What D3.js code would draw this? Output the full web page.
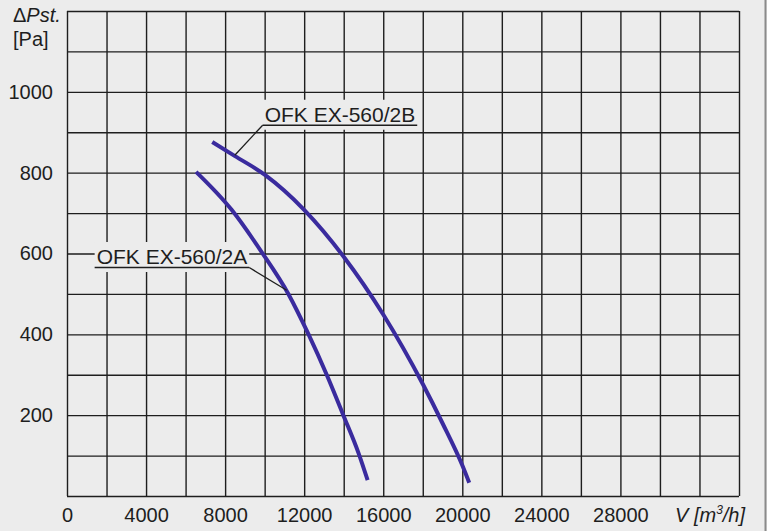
<!DOCTYPE html>
<head>
  <meta charset="utf-8">
  <script src="https://cdnjs.cloudflare.com/ajax/libs/d3/7.8.5/d3.min.js"></script>
  <style>
    body { margin:0; background:#ececec; }
    text { font-family: "Liberation Sans", Arial, sans-serif; fill:#1e1e1e; }
  </style>
</head>

<body>
  <script>
    // curve data: [V m3/h, dPst Pa]
    var curve2A = [[6530, 802], [8330, 708], [9815, 606], [11200, 500], [12210, 401],
                   [13140, 300], [13980, 200], [14750, 106], [15210, 39]];
    var curve2B = [[7350, 876], [8500, 841], [10000, 795], [12000, 708], [14000, 592],
                   [16000, 449], [18000, 277], [19000, 180], [20000, 76], [20350, 33]];
    var seriesNames = ["OFK EX-560/2A", "OFK EX-560/2B"];
    var xTicks = [0, 4000, 8000, 12000, 16000, 20000, 24000, 28000];
    var yTicks = [200, 400, 600, 800, 1000];
    var xGrid = d3.range(0, 34001, 2000);
    var yGrid = d3.range(0, 1201, 100);
    // where each leader line touches its curve / where the label sits (data units)
    var leaderOnCurve = [[11116, 509], [8490, 843]];
    var labelAnchor = [[1500, 574], [10000, 926]];

    var width = 767,
        height = 531;
    var margin = {left: 67, top: 11},
        w = 672,
        h = 485;

    var svg = d3.select("body").append("svg")
      .attr("width", width)
      .attr("height", height)

    svg.append('line')
      .attr('x1', 765.5).attr('x2', 765.5)
      .attr('y1', 0).attr('y2', height)
      .attr('stroke', '#8a8a8a').attr('stroke-width', 2)

    var xScale = d3.scaleLinear().domain([0, 34000]).range([0, w]);
    var yScale = d3.scaleLinear().domain([0, 1200]).range([h, 0]);

    var g = svg.append('g')
      .attr('transform', 'translate(' + margin.left + ',' + margin.top + ')')

    //grid
    g.append('g')
      .attr('class', 'xgrid')
      .attr('transform', 'translate(0,' + h + ')')
      .call(d3.axisBottom(xScale).tickValues(xGrid).tickSize(-h).tickFormat(''))
    g.append('g')
      .attr('class', 'ygrid')
      .call(d3.axisLeft(yScale).tickValues(yGrid).tickSize(-w).tickFormat(''))
    g.selectAll('.xgrid .domain, .ygrid .domain').remove()
    g.selectAll('.xgrid line, .ygrid line')
      .attr('stroke', '#1e1e1e')
      .attr('stroke-width', 1.4)

    //tick labels
    var xAxis = g.append('g')
      .attr('transform', 'translate(0,' + h + ')')
      .call(d3.axisBottom(xScale).tickValues(xTicks).tickSize(0).tickPadding(12)
        .tickFormat(d3.format('d')))
    var yAxis = g.append('g')
      .call(d3.axisLeft(yScale).tickValues(yTicks).tickSize(0).tickPadding(14)
        .tickFormat(d3.format('d')))
    xAxis.select('.domain').remove()
    yAxis.select('.domain').remove()
    g.selectAll('.tick text')
      .attr('font-size', 20)
      .attr('font-family', '"Liberation Sans", Arial, sans-serif')
      .attr('fill', '#1e1e1e')

    //axis titles
    var yt = svg.append('text').attr('x', 13).attr('y', 22).attr('font-size', 20)
    yt.append('tspan').text('\u0394')
    yt.append('tspan').attr('font-style', 'italic').text('Pst.')
    svg.append('text').attr('x', 13).attr('y', 46).attr('font-size', 20).text('[Pa]')

    var xt = svg.append('text').attr('x', 675).attr('y', 522)
      .attr('font-size', 20).attr('font-style', 'italic')
    xt.append('tspan').text('V [m')
    xt.append('tspan').attr('font-size', 12).attr('dy', -8).text('3')
    xt.append('tspan').attr('dy', 8).text('/h]')

    //curves
    var line = d3.line()
      .x(function(d) { return xScale(d[0]) })
      .y(function(d) { return yScale(d[1]) })
      .curve(d3.curveMonotoneX)

    g.selectAll('.curve')
      .data([curve2A, curve2B])
      .enter()
      .append('path')
      .attr('class', 'curve')
      .attr('d', line)
      .attr('fill', 'none')
      .attr('stroke', '#3a2b9e')
      .attr('stroke-width', 4)

    //labels with leader lines
    seriesNames.forEach(function(name, i) {
      var lx = xScale(labelAnchor[i][0]),
          ly = yScale(labelAnchor[i][1]);
      var lab = g.append('g')
      var t = lab.append('text')
        .attr('x', lx).attr('y', ly)
        .attr('font-size', 21)
        .text(name)
      var bb = t.node().getBBox();
      lab.insert('rect', 'text')
        .attr('x', bb.x - 2).attr('y', ly - 22)
        .attr('width', bb.width + 4).attr('height', 30)
        .attr('fill', '#ececec')
      lab.append('line')
        .attr('x1', bb.x - 2).attr('x2', bb.x + bb.width + 2)
        .attr('y1', ly + 3.5).attr('y2', ly + 3.5)
        .attr('stroke', '#1e1e1e').attr('stroke-width', 1.3)
      var ex = i === 0 ? bb.x + bb.width + 2 : bb.x - 2;
      lab.append('line')
        .attr('x1', ex).attr('y1', ly + 3.5)
        .attr('x2', xScale(leaderOnCurve[i][0]))
        .attr('y2', yScale(leaderOnCurve[i][1]))
        .attr('stroke', '#1e1e1e').attr('stroke-width', 1.3)
    })
  </script>
</body>
